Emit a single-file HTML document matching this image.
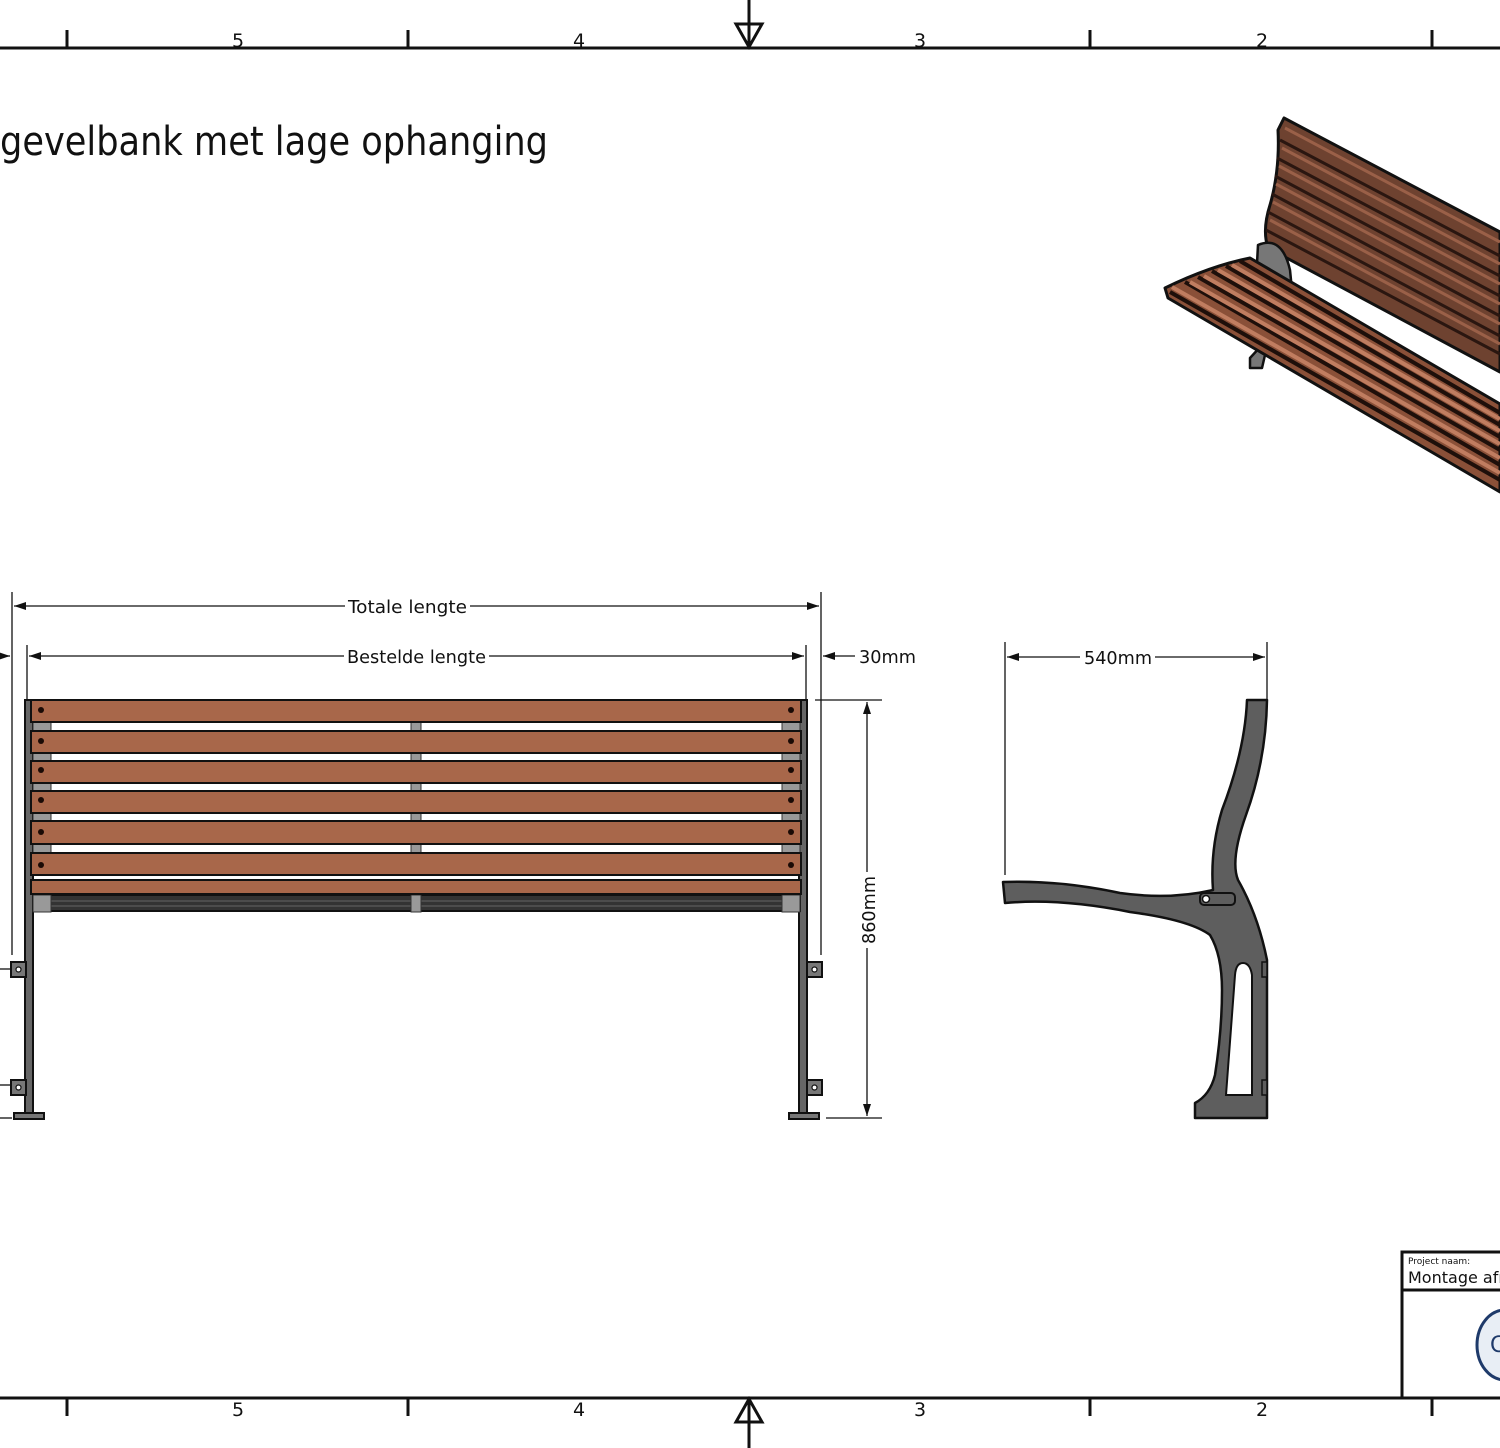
<!DOCTYPE html>
<html><head><meta charset="utf-8"><style>
html,body{margin:0;padding:0;background:#fff;}
svg{display:block;}
text{font-family:"DejaVu Sans","Liberation Sans",sans-serif;fill:#111;}
</style></head><body>
<svg width="1500" height="1448" viewBox="0 0 1500 1448" xmlns="http://www.w3.org/2000/svg">
<defs>
<marker id="ar" markerWidth="12" markerHeight="8" refX="12" refY="4" orient="auto" markerUnits="userSpaceOnUse">
<path d="M0,0 L12,4 L0,8 Z" fill="#111"/></marker>
</defs>
<g stroke="#111" stroke-width="3" fill="none">
<line x1="0" y1="48" x2="1500" y2="48"/>
<line x1="0" y1="1398" x2="1500" y2="1398"/>
<line x1="67" y1="30" x2="67" y2="48"/><line x1="408" y1="30" x2="408" y2="48"/>
<line x1="1090" y1="30" x2="1090" y2="48"/><line x1="1432" y1="30" x2="1432" y2="48"/>
<line x1="67" y1="1398" x2="67" y2="1416"/><line x1="408" y1="1398" x2="408" y2="1416"/>
<line x1="1090" y1="1398" x2="1090" y2="1416"/><line x1="1432" y1="1398" x2="1432" y2="1416"/>
<line x1="749" y1="0" x2="749" y2="48"/>
<path d="M736,24 L762,24 L749,47 Z"/>
<line x1="749" y1="1398" x2="749" y2="1448"/>
<path d="M736,1422 L762,1422 L749,1399 Z"/>
</g>
<g font-size="19">
<text x="232" y="47">5</text><text x="573" y="47">4</text><text x="914" y="47">3</text><text x="1256" y="47">2</text>
<text x="232" y="1416">5</text><text x="573" y="1416">4</text><text x="914" y="1416">3</text><text x="1256" y="1416">2</text>
</g>
<text x="0" y="155" font-size="40" textLength="548" lengthAdjust="spacingAndGlyphs">gevelbank met lage ophanging</text>

<!-- isometric view -->
<g stroke="#111" stroke-linejoin="round">
<path d="M1284,118 L1500,232 L1500,372 L1268,248 Q1262,230 1270,205 Q1280,170 1278,130 Z" fill="#6e4230" stroke-width="3"/>
<g stroke="#2a1610" stroke-width="3">
<line x1="1280" y1="140" x2="1500" y2="256"/><line x1="1277" y1="158" x2="1500" y2="276"/>
<line x1="1275" y1="176" x2="1500" y2="296"/><line x1="1272" y1="194" x2="1500" y2="316"/>
<line x1="1268" y1="212" x2="1500" y2="336"/><line x1="1266" y1="230" x2="1500" y2="354"/>
</g>
<g stroke="#9a6048" stroke-width="3">
<line x1="1285" y1="128" x2="1500" y2="242"/><line x1="1282" y1="148" x2="1500" y2="264"/>
<line x1="1279" y1="166" x2="1500" y2="284"/><line x1="1276" y1="184" x2="1500" y2="304"/>
<line x1="1273" y1="202" x2="1500" y2="324"/><line x1="1270" y1="220" x2="1500" y2="344"/>
</g>
<path d="M1258,245 Q1282,235 1290,270 L1292,290 L1290,330 L1275,350 L1265,355 L1262,368 L1250,368 L1250,358 L1262,345 L1255,300 Z" fill="#777" stroke-width="2.5"/>
<path d="M1165,288 Q1210,266 1250,258 L1500,404 L1500,492 L1168,298 Z" fill="#8a5038" stroke-width="3"/>
<g stroke="#1e0f0a" stroke-width="4">
<line x1="1170" y1="292" x2="1500" y2="480"/><line x1="1185" y1="282" x2="1500" y2="465"/>
<line x1="1198" y1="277" x2="1500" y2="450"/><line x1="1212" y1="271" x2="1500" y2="437"/>
<line x1="1226" y1="266" x2="1500" y2="425"/><line x1="1240" y1="261" x2="1500" y2="413"/>
</g>
<g stroke="#c07d60" stroke-width="4">
<line x1="1172" y1="287" x2="1500" y2="473"/><line x1="1190" y1="282" x2="1500" y2="458"/>
<line x1="1204" y1="276" x2="1500" y2="444"/><line x1="1218" y1="270" x2="1500" y2="431"/>
<line x1="1232" y1="265" x2="1500" y2="419"/>
</g>
</g>

<!-- dimensions front -->
<g stroke="#111" stroke-width="1.3" fill="none">
<line x1="12" y1="592" x2="12" y2="955"/>
<line x1="821" y1="592" x2="821" y2="955"/>
<line x1="27" y1="645" x2="27" y2="700"/>
<line x1="806" y1="645" x2="806" y2="700"/>
<line x1="345" y1="606" x2="14" y2="606" marker-end="url(#ar)"/>
<line x1="470" y1="606" x2="819" y2="606" marker-end="url(#ar)"/>
<line x1="344" y1="656" x2="29" y2="656" marker-end="url(#ar)"/>
<line x1="489" y1="656" x2="804" y2="656" marker-end="url(#ar)"/>
<line x1="0" y1="656" x2="10" y2="656" marker-end="url(#ar)"/>
<line x1="855" y1="656" x2="823" y2="656" marker-end="url(#ar)"/>
<line x1="815" y1="700" x2="882" y2="700"/>
<line x1="826" y1="1118" x2="882" y2="1118"/>
<line x1="867" y1="872" x2="867" y2="702" marker-end="url(#ar)"/>
<line x1="867" y1="948" x2="867" y2="1116" marker-end="url(#ar)"/>
<line x1="0" y1="969" x2="10" y2="969"/><line x1="0" y1="1085" x2="10" y2="1085"/><line x1="0" y1="1118" x2="12" y2="1118"/>
</g>
<text x="348" y="613" font-size="18" textLength="119" lengthAdjust="spacingAndGlyphs">Totale lengte</text>
<text x="347" y="663" font-size="18" textLength="139" lengthAdjust="spacingAndGlyphs">Bestelde lengte</text>
<text x="859" y="663" font-size="18" textLength="57" lengthAdjust="spacingAndGlyphs">30mm</text>
<text transform="translate(875,944) rotate(-90)" font-size="18" textLength="68" lengthAdjust="spacingAndGlyphs">860mm</text>

<!-- front bench -->
<g stroke="#111" stroke-width="2">
<rect x="25" y="700" width="8" height="415" fill="#666"/>
<rect x="799" y="700" width="8" height="415" fill="#666"/>
<rect x="14" y="1113" width="30" height="6" fill="#777"/>
<rect x="789" y="1113" width="30" height="6" fill="#777"/>
<rect x="11" y="962" width="15" height="15" fill="#777"/><rect x="11" y="1080" width="15" height="15" fill="#777"/>
<rect x="807" y="962" width="15" height="15" fill="#777"/><rect x="807" y="1080" width="15" height="15" fill="#777"/>
<rect x="33" y="895" width="767" height="16" fill="#333"/>
</g>
<g fill="#fff" stroke="#111" stroke-width="1.2">
<circle cx="18.5" cy="969.5" r="2.5"/><circle cx="18.5" cy="1087.5" r="2.5"/>
<circle cx="814.5" cy="969.5" r="2.5"/><circle cx="814.5" cy="1087.5" r="2.5"/>
</g>
<g stroke="#555" stroke-width="1.5"><line x1="33" y1="901" x2="800" y2="901"/><line x1="33" y1="906" x2="800" y2="906"/></g>
<g fill="#999" stroke="#333" stroke-width="1">
<rect x="33" y="720" width="18" height="12"/><rect x="33" y="751" width="18" height="12"/><rect x="33" y="781" width="18" height="12"/>
<rect x="33" y="811" width="18" height="12"/><rect x="33" y="843" width="18" height="12"/><rect x="33" y="895" width="18" height="17"/>
<rect x="782" y="720" width="18" height="12"/><rect x="782" y="751" width="18" height="12"/><rect x="782" y="781" width="18" height="12"/>
<rect x="782" y="811" width="18" height="12"/><rect x="782" y="843" width="18" height="12"/><rect x="782" y="895" width="18" height="17"/>
<rect x="411" y="720" width="10" height="12"/><rect x="411" y="751" width="10" height="12"/><rect x="411" y="781" width="10" height="12"/>
<rect x="411" y="811" width="10" height="12"/><rect x="411" y="843" width="10" height="12"/><rect x="411" y="895" width="10" height="17"/>
</g>
<g fill="#a8674a" stroke="#111" stroke-width="2">
<rect x="31" y="700" width="770" height="22"/>
<rect x="31" y="731" width="770" height="22"/>
<rect x="31" y="761" width="770" height="22"/>
<rect x="31" y="791" width="770" height="22"/>
<rect x="31" y="821" width="770" height="23"/>
<rect x="31" y="853" width="770" height="22"/>
<rect x="31" y="880" width="770" height="14"/>
</g>
<g fill="#1a0a05">
<circle cx="41" cy="710" r="3"/><circle cx="41" cy="741" r="3"/><circle cx="41" cy="770" r="3"/><circle cx="41" cy="800" r="3"/><circle cx="41" cy="832" r="3"/><circle cx="41" cy="865" r="3"/>
<circle cx="791" cy="710" r="3"/><circle cx="791" cy="741" r="3"/><circle cx="791" cy="770" r="3"/><circle cx="791" cy="800" r="3"/><circle cx="791" cy="832" r="3"/><circle cx="791" cy="865" r="3"/>
</g>

<!-- side view -->
<g stroke="#111" stroke-width="1.3" fill="none">
<line x1="1005" y1="642" x2="1005" y2="875"/>
<line x1="1267" y1="642" x2="1267" y2="700"/>
<line x1="1080" y1="657" x2="1007" y2="657" marker-end="url(#ar)"/>
<line x1="1155" y1="657" x2="1265" y2="657" marker-end="url(#ar)"/>
</g>
<text x="1084" y="664" font-size="18" textLength="68" lengthAdjust="spacingAndGlyphs">540mm</text>
<path d="M1247,700 L1267,700 Q1266,760 1246,815 Q1230,860 1238,880 Q1258,915 1267,960 L1267,1118 L1195,1118 L1195,1103 Q1210,1095 1215,1075 Q1222,1030 1222,990 Q1222,955 1210,935 Q1190,920 1130,912 Q1060,898 1005,903 L1003,882 Q1060,880 1120,893 Q1170,900 1213,890 Q1210,850 1222,810 Q1245,750 1247,700 Z" fill="#5e5e5e" stroke="#111" stroke-width="2.5" stroke-linejoin="round"/>
<path d="M1226,1095 L1252,1095 L1252,975 Q1250,963 1243,963 Q1236,963 1235,975 Z" fill="#fff" stroke="#111" stroke-width="2"/>
<rect x="1200" y="893" width="35" height="12" rx="4" fill="#5e5e5e" stroke="#111" stroke-width="2"/>
<circle cx="1206" cy="899" r="3.5" fill="#fff" stroke="#111" stroke-width="1.5"/>
<rect x="1262" y="962" width="5" height="15" fill="#5e5e5e" stroke="#111" stroke-width="1.5"/>
<rect x="1262" y="1080" width="5" height="15" fill="#5e5e5e" stroke="#111" stroke-width="1.5"/>

<!-- title block -->
<g stroke="#111" stroke-width="3" fill="none">
<path d="M1402,1398 L1402,1252 L1500,1252"/>
<line x1="1402" y1="1290" x2="1500" y2="1290"/>
</g>
<text x="1408" y="1264" font-size="9">Project naam:</text>
<text x="1408" y="1283" font-size="16">Montage afm</text>
<ellipse cx="1505" cy="1345" rx="28" ry="35" fill="#e8eef5" stroke="#1e3a6a" stroke-width="3"/>
<text x="1490" y="1352" font-size="22" style="fill:#1e3a6a">C</text>
</svg>
</body></html>
